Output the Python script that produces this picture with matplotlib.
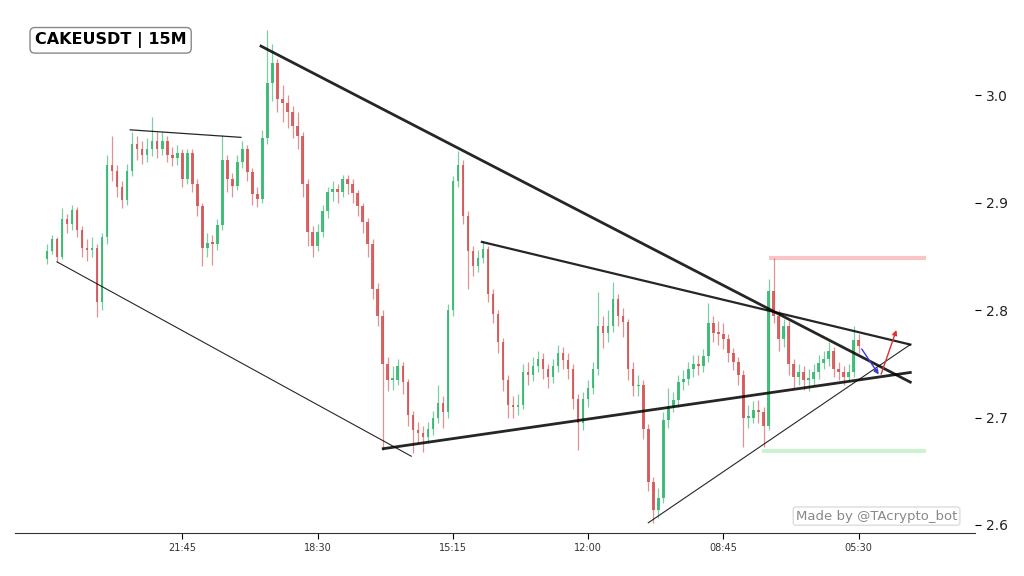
import matplotlib
matplotlib.use("Agg")
import matplotlib.pyplot as plt

# Candle data (15M)
FIRST_OPEN = 2.848
CLOSE = [
    2.855, 2.866, 2.850, 2.885, 2.880, 2.893, 2.875, 2.858, 2.856, 2.858,
    2.808, 2.868, 2.935, 2.930, 2.915, 2.903, 2.930, 2.955, 2.950, 2.945,
    2.950, 2.958, 2.950, 2.958, 2.945, 2.942, 2.946, 2.922, 2.946, 2.918,
    2.897, 2.858, 2.863, 2.862, 2.879, 2.940, 2.922, 2.916, 2.938, 2.950,
    2.929, 2.908, 2.904, 2.960, 3.012, 3.030, 2.997, 2.993, 2.985, 2.972,
    2.962, 2.918, 2.873, 2.860, 2.873, 2.892, 2.910, 2.913, 2.910, 2.922,
    2.918, 2.909, 2.897, 2.882, 2.862, 2.820, 2.795, 2.750, 2.735, 2.735,
    2.748, 2.733, 2.702, 2.688, 2.686, 2.682, 2.689, 2.700, 2.714, 2.705,
    2.800, 2.920, 2.935, 2.888, 2.855, 2.841, 2.849, 2.857, 2.815, 2.796,
    2.770, 2.735, 2.712, 2.710, 2.712, 2.742, 2.740, 2.748, 2.755, 2.745,
    2.738, 2.748, 2.760, 2.754, 2.745, 2.717, 2.695, 2.717, 2.728, 2.745,
    2.785, 2.779, 2.785, 2.810, 2.795, 2.789, 2.745, 2.729, 2.730, 2.689,
    2.640, 2.614, 2.625, 2.698, 2.710, 2.716, 2.733, 2.736, 2.745, 2.750,
    2.748, 2.757, 2.788, 2.779, 2.778, 2.773, 2.760, 2.752, 2.740, 2.700,
    2.700, 2.707, 2.705, 2.692, 2.818, 2.795, 2.773, 2.785, 2.750, 2.738,
    2.742, 2.735, 2.736, 2.742, 2.751, 2.755, 2.762, 2.745, 2.742, 2.738,
    2.742, 2.772, 2.767,
]
HIGH = [
    2.862, 2.870, 2.868, 2.895, 2.890, 2.898, 2.896, 2.878, 2.866, 2.868,
    2.862, 2.872, 2.945, 2.962, 2.935, 2.920, 2.936, 2.966, 2.962, 2.958,
    2.960, 2.980, 2.966, 2.966, 2.962, 2.952, 2.954, 2.950, 2.950, 2.950,
    2.922, 2.900, 2.872, 2.870, 2.885, 2.963, 2.945, 2.928, 2.945, 2.958,
    2.954, 2.932, 2.915, 2.968, 3.061, 3.048, 3.034, 3.010, 3.000, 2.990,
    2.985, 2.966, 2.922, 2.878, 2.880, 2.898, 2.915, 2.920, 2.918, 2.926,
    2.926, 2.922, 2.912, 2.900, 2.886, 2.866, 2.825, 2.800, 2.756, 2.748,
    2.755, 2.752, 2.736, 2.706, 2.696, 2.692, 2.696, 2.706, 2.730, 2.720,
    2.806, 2.925, 2.948, 2.940, 2.892, 2.860, 2.856, 2.864, 2.860, 2.820,
    2.800, 2.774, 2.740, 2.720, 2.722, 2.750, 2.752, 2.756, 2.762, 2.760,
    2.750, 2.755, 2.768, 2.766, 2.760, 2.750, 2.722, 2.724, 2.735, 2.752,
    2.817, 2.795, 2.800, 2.826, 2.815, 2.802, 2.792, 2.752, 2.740, 2.735,
    2.694, 2.645, 2.634, 2.705, 2.728, 2.724, 2.740, 2.744, 2.752, 2.758,
    2.758, 2.764, 2.807, 2.795, 2.790, 2.788, 2.778, 2.765, 2.756, 2.744,
    2.712, 2.715, 2.716, 2.710, 2.829, 2.849, 2.800, 2.792, 2.790, 2.755,
    2.750, 2.748, 2.745, 2.750, 2.758, 2.762, 2.770, 2.766, 2.752, 2.748,
    2.750, 2.785, 2.778,
]
LOW = [
    2.843, 2.852, 2.845, 2.848, 2.872, 2.875, 2.868, 2.850, 2.846, 2.850,
    2.794, 2.800, 2.862, 2.920, 2.905, 2.895, 2.898, 2.925, 2.940, 2.936,
    2.938, 2.944, 2.942, 2.945, 2.938, 2.934, 2.935, 2.915, 2.918, 2.910,
    2.888, 2.841, 2.850, 2.842, 2.856, 2.875, 2.910, 2.905, 2.912, 2.932,
    2.920, 2.898, 2.896, 2.900, 2.955, 2.995, 2.985, 2.975, 2.970, 2.960,
    2.950, 2.905, 2.860, 2.850, 2.855, 2.868, 2.886, 2.902, 2.900, 2.905,
    2.908, 2.900, 2.888, 2.872, 2.850, 2.810, 2.785, 2.670, 2.725, 2.726,
    2.730, 2.722, 2.692, 2.667, 2.676, 2.668, 2.676, 2.684, 2.695, 2.690,
    2.700, 2.795, 2.915, 2.880, 2.820, 2.832, 2.836, 2.844, 2.808, 2.788,
    2.760, 2.725, 2.700, 2.700, 2.702, 2.708, 2.730, 2.734, 2.742, 2.736,
    2.728, 2.732, 2.742, 2.745, 2.736, 2.708, 2.670, 2.688, 2.710, 2.722,
    2.740, 2.765, 2.770, 2.780, 2.785, 2.775, 2.735, 2.720, 2.720, 2.680,
    2.632, 2.602, 2.606, 2.620, 2.690, 2.705, 2.710, 2.726, 2.730, 2.738,
    2.740, 2.742, 2.752, 2.770, 2.768, 2.764, 2.752, 2.744, 2.730, 2.673,
    2.690, 2.695, 2.695, 2.673, 2.688, 2.788, 2.762, 2.766, 2.740, 2.728,
    2.730, 2.726, 2.725, 2.730, 2.736, 2.745, 2.748, 2.738, 2.735, 2.730,
    2.734, 2.738, 2.760,
]
OPEN = [FIRST_OPEN] + CLOSE[:-1]

TICK_POS = [27, 54, 81, 108, 135, 162]
TICK_LABELS = ["21:45", "18:30", "15:15", "12:00", "08:45", "05:30"]

# Trendlines: ((x0, y0), (x1, y1), linewidth)
TRENDLINES = [
    ((2.0, 2.845), (72.7, 2.664), 0.8),
    ((16.6, 2.968), (38.7, 2.961), 0.9),
    ((42.7, 3.046), (172.3, 2.733), 2.0),
    ((86.8, 2.8636), (172.3, 2.768), 1.6),
    ((67.1, 2.671), (172.3, 2.742), 2.0),
    ((120.0, 2.602), (172.3, 2.768), 0.8),
]
RESISTANCE = (144.0, 175.4, 2.849)
SUPPORT = (142.6, 175.4, 2.669)
ARROW_DOWN = ((162.3, 2.766), (166.3, 2.738))
ARROW_UP = ((166.3, 2.738), (169.7, 2.784))

UP_COLOR = "#35b870"
DOWN_COLOR = "#d45656"

fig = plt.figure(figsize=(10.24, 5.76), dpi=100)
ax = fig.add_axes([0.0146, 0.0747, 0.9375, 0.89])

xs = list(range(len(CLOSE)))
colors = [UP_COLOR if c >= o else DOWN_COLOR for o, c in zip(OPEN, CLOSE)]
ax.vlines(xs, LOW, HIGH, colors=colors, linewidth=0.9, alpha=0.65, zorder=2)
bottoms = [min(o, c) for o, c in zip(OPEN, CLOSE)]
heights = [max(abs(c - o), 0.0015) for o, c in zip(OPEN, CLOSE)]
ax.bar(xs, heights, bottom=bottoms, width=0.5, color=colors, alpha=0.9, linewidth=0, zorder=3)

for (x0, y0), (x1, y1), lw in TRENDLINES:
    ax.plot([x0, x1], [y0, y1], color="black", linewidth=lw, alpha=0.85, zorder=4)

ax.hlines(RESISTANCE[2], RESISTANCE[0], RESISTANCE[1], color="#f8c4c4", linewidth=3, zorder=1)
ax.hlines(SUPPORT[2], SUPPORT[0], SUPPORT[1], color="#c8f3cc", linewidth=2.8, zorder=1)

ax.annotate("", xy=ARROW_DOWN[1], xytext=ARROW_DOWN[0],
            arrowprops=dict(arrowstyle="-|>", color="#3b3bdb", lw=1, mutation_scale=7), zorder=5)
ax.annotate("", xy=ARROW_UP[1], xytext=ARROW_UP[0],
            arrowprops=dict(arrowstyle="-|>", color="#e03030", lw=1, mutation_scale=7), zorder=5)

ax.set_xlim(-6.4, 185.2)
ax.set_ylim(2.5925, 3.07)
ax.set_xticks(TICK_POS)
ax.set_xticklabels(TICK_LABELS, fontsize=7, color="#333333")
ax.yaxis.tick_right()
ax.set_yticks([2.6, 2.7, 2.8, 2.9, 3.0])
ax.set_yticklabels(["2.6", "2.7", "2.8", "2.9", "3.0"], fontsize=10, color="#222222")
ax.tick_params(axis="y", length=4, pad=4)
ax.tick_params(axis="x", length=4)
for side in ["left", "top", "right"]:
    ax.spines[side].set_visible(False)
ax.spines["bottom"].set_color("#333333")

fig.text(0.034, 0.93, "CAKEUSDT | 15M", fontsize=11.5, fontweight="bold", va="center", ha="left",
         bbox=dict(boxstyle="round,pad=0.3", fc="white", ec="#888888", lw=1))
fig.text(0.856, 0.104, "Made by @TAcrypto_bot", fontsize=9.5, color="#888888", va="center", ha="center",
         bbox=dict(boxstyle="round,pad=0.2", fc="white", ec="#dddddd", lw=1))

fig.savefig("out.png", dpi=100)
